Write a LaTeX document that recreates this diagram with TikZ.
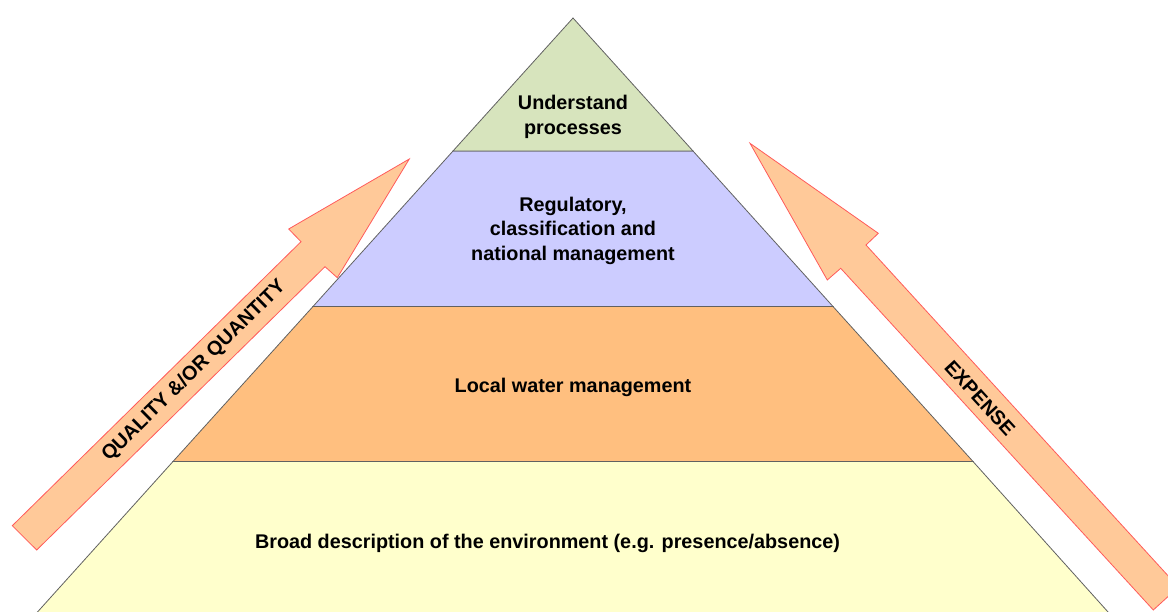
\documentclass[tikz,border=0pt]{standalone}
\usepackage{fontspec}
\setmainfont{Liberation Sans}
\begin{document}
\begin{tikzpicture}[x=1pt,y=-1pt,
  tier/.style={draw=black!62,line width=0.8pt,line join=miter},
  bigarrow/.style={fill=arrowfill,draw=arrowline,line width=0.8pt,line join=miter},
  label/.style={font=\bfseries\fontsize{19.8}{24.5}\selectfont,align=center,text=black,inner sep=0pt}]
\definecolor{tierA}{HTML}{D7E4BD}
\definecolor{tierB}{HTML}{CCCCFF}
\definecolor{tierC}{HTML}{FFBF7F}
\definecolor{tierD}{HTML}{FFFFCC}
\definecolor{arrowfill}{HTML}{FFC999}
\definecolor{arrowline}{HTML}{FF5A5A}
\useasboundingbox (0,0) rectangle (1168,612);
\clip (0,0) rectangle (1168,612);

% pyramid corner points
\coordinate (apex) at (573,18);
\coordinate (l1) at (453,151);   \coordinate (r1) at (693,151);
\coordinate (l2) at (313,306.5); \coordinate (r2) at (833,306.5);
\coordinate (l3) at (173,461.5); \coordinate (r3) at (973,461.5);
\coordinate (l4) at (28.5,622);  \coordinate (r4) at (1117,622);

% pyramid tiers
\draw[tier,fill=tierD] (l3) -- (r3) -- (r4) -- (l4) -- cycle;
\draw[tier,fill=tierC] (l2) -- (r2) -- (r3) -- (l3) -- cycle;
\draw[tier,fill=tierB] (l1) -- (r1) -- (r2) -- (l2) -- cycle;
\draw[tier,fill=tierA] (apex) -- (r1) -- (l1) -- cycle;

\node[label] (t1) at (573,117) {Understand\\processes};
\node[label] (t2) at (573,230.5) {Regulatory,\\classification and\\national management};
\node[label] (t3) at (573,387) {Local water management};
\node[label] (t4) at (547.5,543) {Broad description of the environment (e.g. presence/absence)};

% left arrow
\draw[bigarrow] (12.3,525.7) -- (301,241.7) -- (288.7,229) -- (409.3,159)
  -- (337.3,277.7) -- (325,266.7) -- (36.7,550) -- cycle;
\node[label,rotate=44.5] (qa) at (194,371) {QUALITY \&/OR QUANTITY};

% right arrow
\draw[bigarrow] (750,143.3) -- (878.3,233.3) -- (866,245) -- (1178.4,587.1)
  -- (1153.3,610) -- (840.7,268.3) -- (827.3,280) -- cycle;
\node[label,rotate=-47.5] (ex) at (980,398) {EXPENSE};
\end{tikzpicture}
\end{document}
